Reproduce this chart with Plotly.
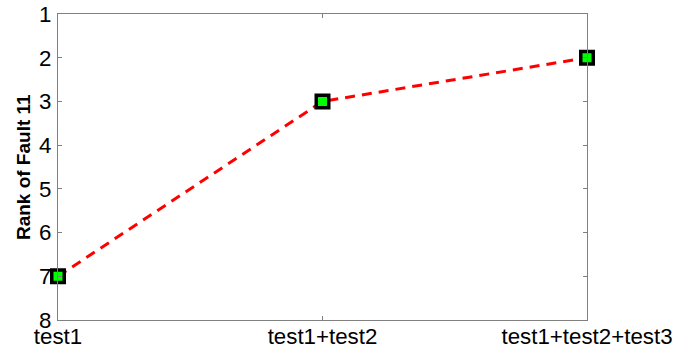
import plotly.graph_objects as go

categories = ["test1", "test1+test2", "test1+test2+test3"]
ranks = [7, 3, 2]
y_ticks = [1, 2, 3, 4, 5, 6, 7, 8]
y_label = "Rank of Fault 11"

xpos = list(range(len(categories)))

fig = go.Figure()
fig.add_trace(go.Scatter(
    x=xpos, y=ranks, mode="lines+markers",
    line=dict(color="#ff0000", width=3, dash="10px,7px"),
    marker=dict(symbol="square", size=12.5, color="#00ff00",
                line=dict(color="black", width=3.5)),
    cliponaxis=False, showlegend=False,
))

axis_common = dict(
    showgrid=False, zeroline=False, showline=True, linecolor="#808080",
    linewidth=1.2, mirror="ticks", ticks="inside", ticklen=4,
    tickcolor="#808080", tickwidth=1, automargin=False,
    tickfont=dict(family="Liberation Sans, Arial, sans-serif", size=22.3, color="black"),
)

fig.update_xaxes(range=[0, len(categories) - 1], tickvals=xpos, ticktext=categories,
                 ticklabelstandoff=-4, **axis_common)
fig.update_yaxes(range=[8, 1], tickvals=y_ticks, ticklabelstandoff=1, **axis_common)

fig.add_annotation(
    text="<b>" + y_label + "</b>", textangle=-90, xref="paper", yref="paper",
    x=-0.066, y=0.5, xanchor="center", yanchor="middle", showarrow=False,
    font=dict(family="Liberation Sans, Arial, sans-serif", size=19, color="black"),
)
fig.update_layout(
    width=690, height=352,
    margin=dict(l=58, r=103, t=14, b=32),
    paper_bgcolor="white", plot_bgcolor="white",
)

fig.write_html("out.html", config={"displayModeBar": False},
               post_script="document.body.style.margin='0';")
